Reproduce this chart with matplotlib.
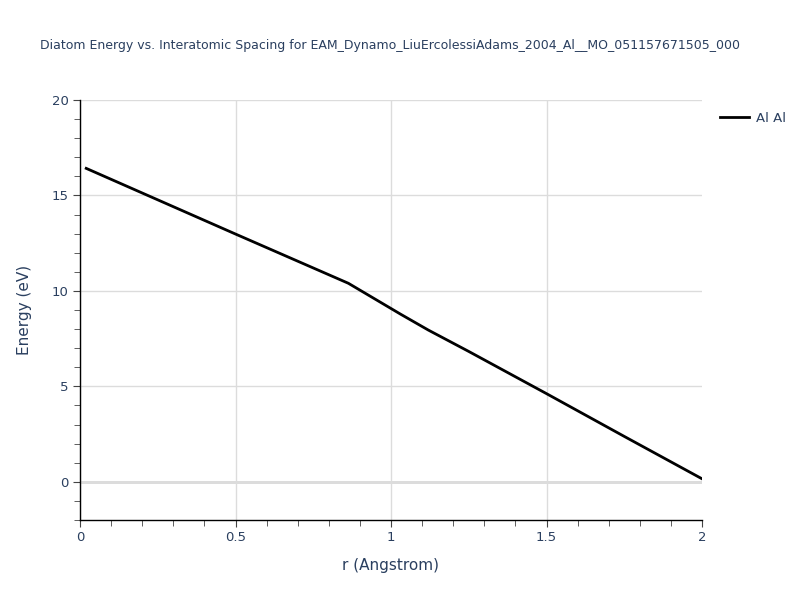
import matplotlib.pyplot as plt
from matplotlib.ticker import MultipleLocator

r = [0.02, 0.5, 0.863, 1.03, 1.12, 1.25, 1.5, 1.75, 2.0]
energy = [16.42, 12.98, 10.40, 8.79, 7.95, 6.83, 4.62, 2.38, 0.16]

title = 'Diatom Energy vs. Interatomic Spacing for EAM_Dynamo_LiuErcolessiAdams_2004_Al__MO_051157671505_000'
txt = '#2a3f5f'

fig = plt.figure(figsize=(8, 6), dpi=100)
ax = fig.add_axes([0.1, 0.1333, 0.7775, 0.7])

ax.plot(r, energy, color='black', linewidth=2, label='Al Al', zorder=3)
ax.axhline(0, color='#d9d9d9', linewidth=2, zorder=1)

ax.set_xlim(0, 2)
ax.set_ylim(-2, 20)
ax.xaxis.set_major_locator(MultipleLocator(0.5))
ax.xaxis.set_minor_locator(MultipleLocator(0.1))
ax.yaxis.set_major_locator(MultipleLocator(5))
ax.yaxis.set_minor_locator(MultipleLocator(1))
ax.set_xticks([0, 0.5, 1, 1.5, 2], ['0', '0.5', '1', '1.5', '2'])

ax.grid(True, which='major', color='#dcdcdc', linewidth=1, zorder=0)
ax.get_xgridlines()[-1].set_visible(False)
ax.get_ygridlines()[-1].set_visible(False)
for s in ['top', 'right']:
    ax.spines[s].set_visible(False)
for s in ['left', 'bottom']:
    ax.spines[s].set_color('black')
    ax.spines[s].set_linewidth(1)

ax.tick_params(which='major', direction='out', length=5, color='#444444', labelsize=9.5, labelcolor=txt, pad=3)
ax.tick_params(which='minor', direction='out', length=4, color='#444444')

ax.set_xlabel('r (Angstrom)', fontsize=11, color=txt, labelpad=10)
ax.set_ylabel('Energy (eV)', fontsize=11, color=txt, labelpad=14)

fig.text(40 / 800, 1 - 46 / 600, title, fontsize=9, color=txt, va='center', ha='left')

ax.legend(loc='upper left', bbox_to_anchor=(1.01, 1.0), frameon=False, fontsize=9.5,
          handlelength=2.2, handletextpad=0.5, labelcolor=txt)

plt.savefig('out.png', dpi=100)
